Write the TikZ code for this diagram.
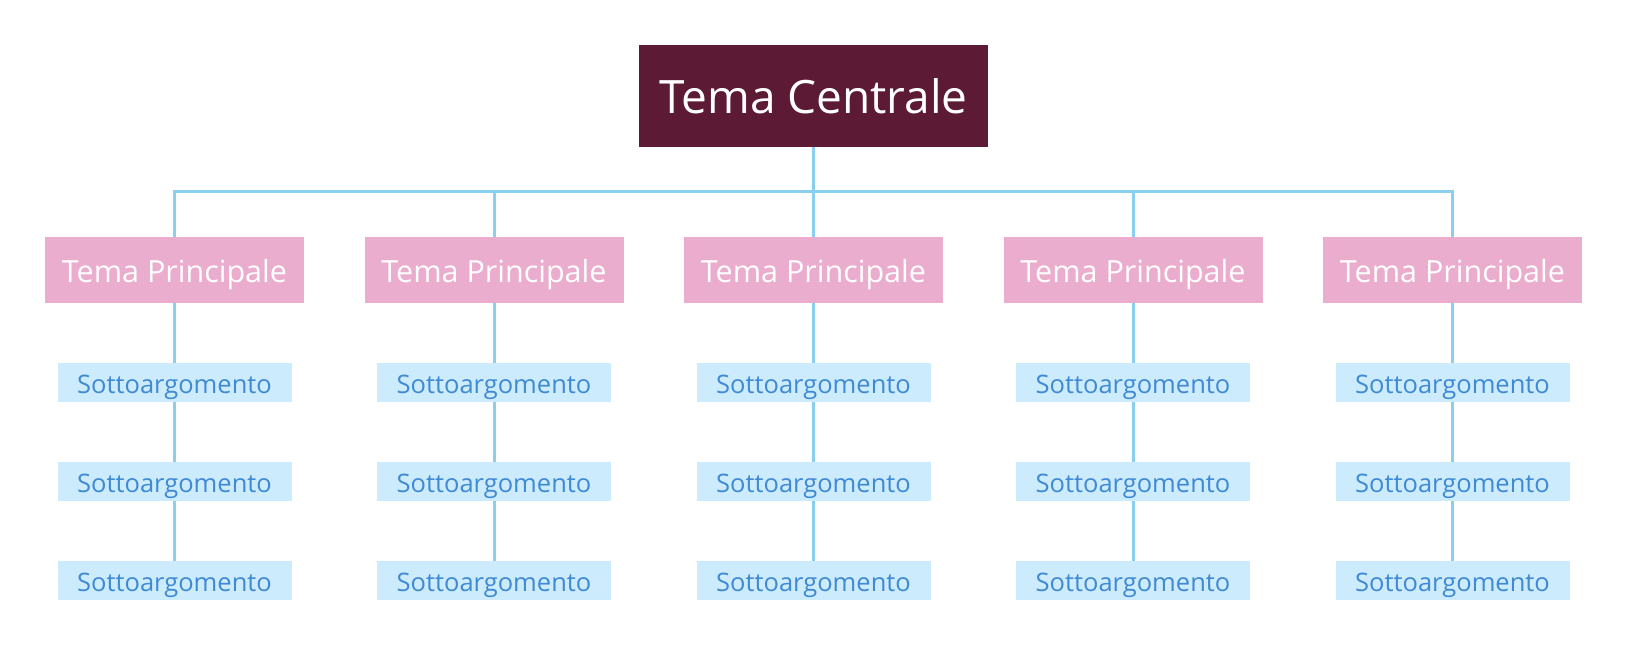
\documentclass[tikz,border=0pt]{standalone}
\usepackage{fontspec}
\setmainfont{Open Sans}
\definecolor{centralfill}{HTML}{5C1A35}
\definecolor{mainfill}{HTML}{EBADCD}
\definecolor{subfill}{HTML}{CCEBFC}
\definecolor{subtext}{HTML}{3F8AD4}
\definecolor{linkcol}{HTML}{88CFF0}
\tikzset{
  central/.style={fill=centralfill, text=white, minimum width=349pt, minimum height=102pt, inner sep=0pt,
    text height=36pt, text depth=0pt, font=\fontsize{46}{50}\selectfont},
  maintopic/.style={fill=mainfill, text=white, minimum width=259pt, minimum height=66pt, inner sep=0pt,
    text height=26pt, text depth=0pt, font=\fontsize{30.5}{34}\selectfont},
  subtopic/.style={fill=subfill, text=subtext, minimum width=234pt, minimum height=39pt, inner sep=0pt,
    text height=21pt, text depth=0pt, font=\fontsize{25.5}{28}\selectfont},
  link/.style={draw=linkcol, line width=3pt}
}
\begin{document}
\begin{tikzpicture}[x=1pt,y=-1pt]
\useasboundingbox (0,0) rectangle (1628,660);
\coordinate (bus) at (813.5,192);
\node[central] (c) at (813.5,96) {Tema Centrale};
\foreach \i/\x in {1/174.5,2/494,3/813.5,4/1133,5/1452.5}{
  \node[maintopic] (m\i) at (\x,270) {Tema Principale};
  \node[subtopic] (s\i a) at (\x,382.5) {Sottoargomento};
  \node[subtopic] (s\i b) at (\x,481.5) {Sottoargomento};
  \node[subtopic] (s\i c) at (\x,580.5) {Sottoargomento};
}
\draw[link] (c.south) -- (bus);
\draw[link] (m1.north) |- (bus) -| (m5.north);
\foreach \i in {2,3,4}{
  \draw[link] (m\i.north) -- (m\i.north |- bus);
}
\foreach \i in {1,2,3,4,5}{
  \draw[link] (m\i.south) -- (s\i a.north);
  \draw[link] (s\i a.south) -- (s\i b.north);
  \draw[link] (s\i b.south) -- (s\i c.north);
}
\end{tikzpicture}
\end{document}
